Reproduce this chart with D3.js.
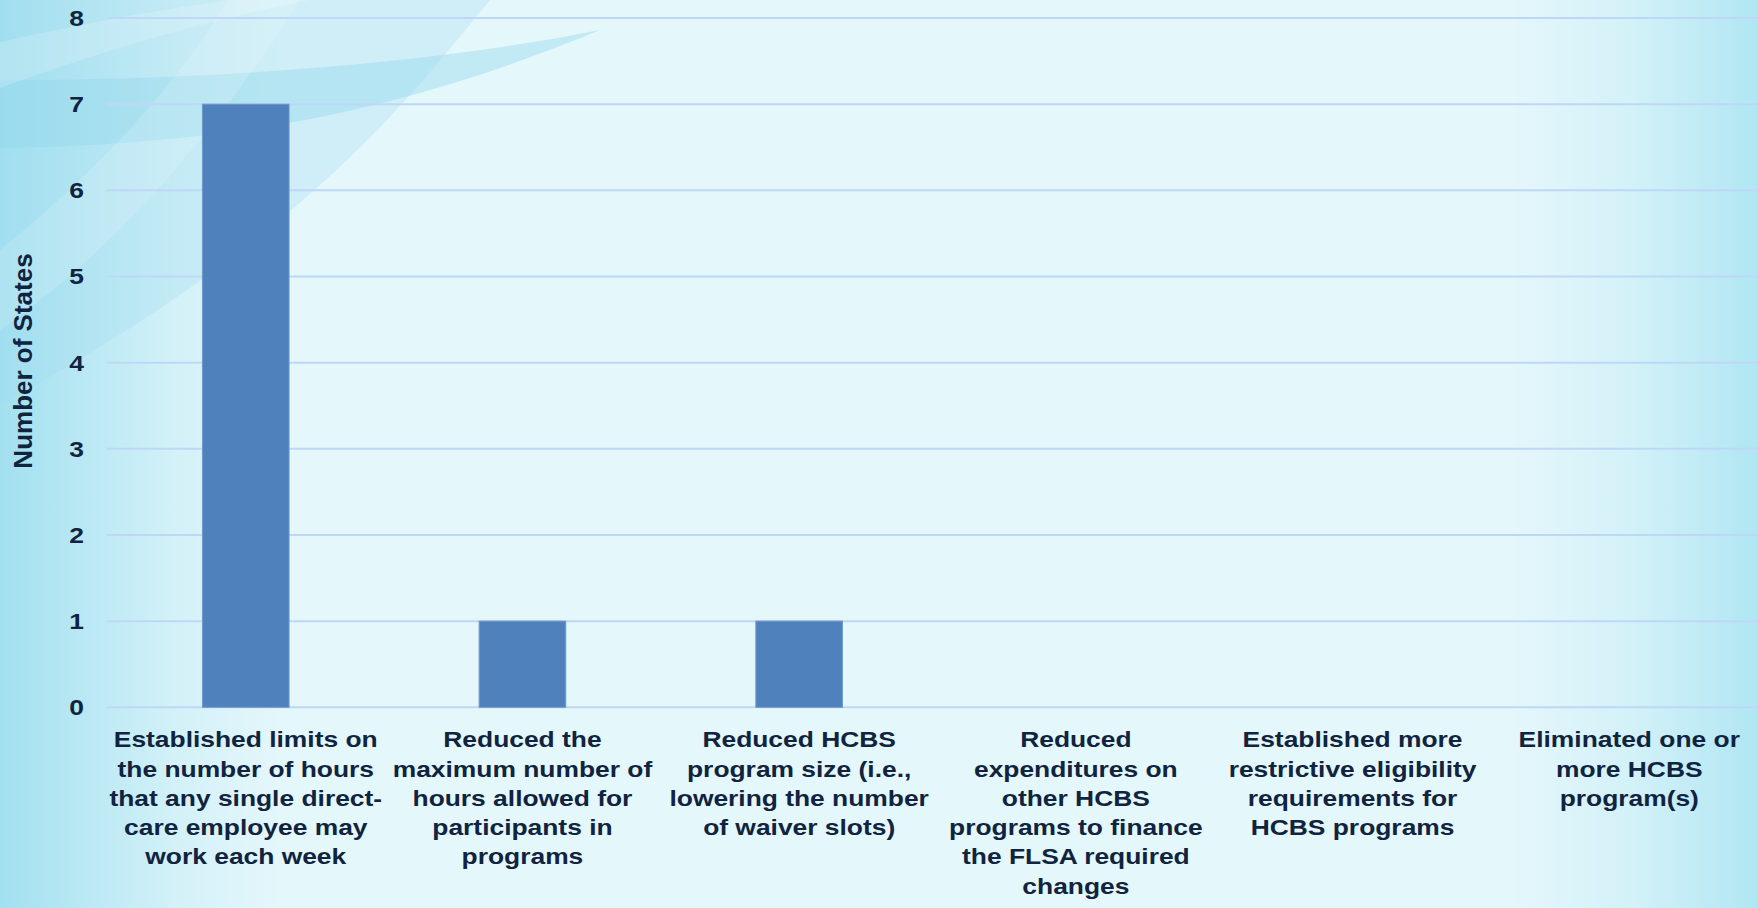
<!DOCTYPE html>
<html lang="en">
  <head>
    <meta charset="UTF-8" />
    <title>HCBS changes chart</title>
    <style>
      html, body { margin: 0; padding: 0; overflow: hidden; }
      svg { display: block; }
    </style>
  </head>
  <body>
    <svg id="chart" width="1758" height="908"></svg>
    <script src="https://d3js.org/d3.v7.min.js"></script>
    <script>
      // chart data
      const categories = [
        ["Established limits on", "the number of hours", "that any single direct-", "care employee may", "work each week"],
        ["Reduced the", "maximum number of", "hours allowed for", "participants in", "programs"],
        ["Reduced HCBS", "program size (i.e.,", "lowering the number", "of waiver slots)"],
        ["Reduced", "expenditures on", "other HCBS", "programs to finance", "the FLSA required", "changes"],
        ["Established more", "restrictive eligibility", "requirements for", "HCBS programs"],
        ["Eliminated one or", "more HCBS", "program(s)"]
      ];
      const values = [7, 1, 1, 0, 0, 0];
      const yTicks = [0, 1, 2, 3, 4, 5, 6, 7, 8];
      const yTitle = "Number of States";

      const W = 1758, H = 908;
      const textColor = "#10233f";
      const svg = d3.select("#chart");

      // background
      const defs = svg.append("defs");
      const lg = defs.append("linearGradient").attr("id", "bgx").attr("x1", 0).attr("x2", 1);
      lg.append("stop").attr("offset", 0).attr("stop-color", "#a2e0f0");
      lg.append("stop").attr("offset", 0.1).attr("stop-color", "#d3f1f8");
      lg.append("stop").attr("offset", 0.16).attr("stop-color", "#e4f7fb");
      lg.append("stop").attr("offset", 0.86).attr("stop-color", "#e4f7fb");
      lg.append("stop").attr("offset", 0.93).attr("stop-color", "#d2f1f8");
      lg.append("stop").attr("offset", 1).attr("stop-color", "#b0e6f3");
      svg.append("rect").attr("width", W).attr("height", H).attr("fill", "url(#bgx)");

      // swooshes top left
      svg.append("path")
        .attr("d", "M0,0 L490,0 C400,110 300,240 0,405 Z")
        .attr("fill", "#9fdcee").attr("opacity", 0.3);
      svg.append("path")
        .attr("d", "M0,80 C200,80 420,66 600,30 C430,100 260,145 0,148 Z")
        .attr("fill", "#8fd6ec").attr("opacity", 0.4);
      svg.append("path")
        .attr("d", "M0,42 C90,22 170,8 230,0 L310,0 C210,20 110,48 0,88 Z")
        .attr("fill", "#ffffff").attr("opacity", 0.18);
      svg.append("path")
        .attr("d", "M228,0 L300,0 C230,110 130,240 0,330 L0,250 C100,170 180,80 228,0 Z")
        .attr("fill", "#ffffff").attr("opacity", 0.15);

      // scales
      const x = d3.scaleBand()
        .domain(d3.range(categories.length))
        .range([107.4, 1767.6])
        .paddingInner(0.687)
        .paddingOuter(0.3435);
      const y = d3.scaleLinear().domain([0, 8]).range([707.3, 18]);

      // gridlines
      svg.append("g")
        .selectAll("line")
        .data(yTicks)
        .enter()
        .append("line")
        .attr("x1", 107)
        .attr("x2", W)
        .attr("y1", (d) => y(d))
        .attr("y2", (d) => y(d))
        .attr("stroke", "#bfd7f7")
        .attr("stroke-width", 2);

      // bars
      svg.append("g")
        .selectAll("rect")
        .data(values)
        .enter()
        .append("rect")
        .attr("x", (d, i) => x(i))
        .attr("width", x.bandwidth())
        .attr("y", (d) => y(d))
        .attr("height", (d) => y(0) - y(d))
        .attr("fill", "#4f81bd")
        .attr("stroke", "#6f98cc")
        .attr("stroke-width", (d) => (d > 0 ? 1 : 0));

      // y tick labels
      svg.append("g")
        .selectAll("text")
        .data(yTicks)
        .enter()
        .append("text")
        .attr("transform", (d) => `translate(84,${y(d)}) scale(1.2,1)`)
        .attr("text-anchor", "end")
        .attr("dy", "0.36em")
        .attr("font-family", "'Liberation Sans', Arial, sans-serif")
        .attr("font-weight", "bold")
        .attr("font-size", 22)
        .attr("fill", textColor)
        .text((d) => d);

      // y title
      svg.append("text")
        .attr("transform", "translate(31.5,361) rotate(-90)")
        .attr("text-anchor", "middle")
        .attr("font-family", "'Liberation Sans', Arial, sans-serif")
        .attr("font-weight", "bold")
        .attr("font-size", 26)
        .attr("fill", textColor)
        .text(yTitle);

      // category labels
      const labels = svg.append("g")
        .selectAll("text")
        .data(categories)
        .enter()
        .append("text")
        .attr("transform", (d, i) => `translate(${x(i) + x.bandwidth() / 2},747.3) scale(1.2,1)`)
        .attr("text-anchor", "middle")
        .attr("font-family", "'Liberation Sans', Arial, sans-serif")
        .attr("font-weight", "bold")
        .attr("font-size", 22)
        .attr("fill", textColor);
      labels.selectAll("tspan")
        .data((d) => d)
        .enter()
        .append("tspan")
        .attr("x", 0)
        .attr("y", (d, j) => j * 29.3)
        .text((d) => d);
    </script>
  </body>
</html>
